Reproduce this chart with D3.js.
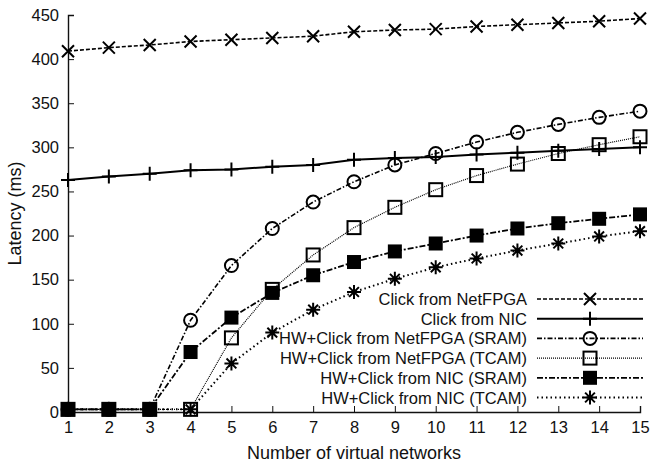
<!DOCTYPE html>
<html>
<head>
<meta charset="utf-8">
<script src="https://cdn.jsdelivr.net/npm/d3@7"></script>
<style>
  body { margin: 0; background: #fff; }
  svg text { font-family: "Liberation Sans", Arial, sans-serif; fill: #111; }
</style>
</head>
<body>
<div id="chart"></div>
<script>
const networks = [1, 2, 3, 4, 5, 6, 7, 8, 9, 10, 11, 12, 13, 14, 15];
const yTicks = [0, 50, 100, 150, 200, 250, 300, 350, 400, 450];

const clickNetFPGA = [409, 413, 416, 420, 422, 424, 426, 431, 433, 434, 437, 439, 441, 443, 446];
const clickNIC = [263, 267, 270, 274, 275, 278, 280, 286, 288, 289, 292, 294, 296, 298, 300];
const hwNetFPGASram = [3, 3, 3, 104, 166, 208, 238, 261, 280, 293, 306, 317, 326, 334, 341];
const hwNetFPGATcam = [3, 3, 3, 3, 84, 139, 178, 209, 232, 252, 268, 281, 293, 303, 312];
const hwNICSram = [3, 3, 3, 68, 107, 135, 155, 170, 182, 191, 200, 208, 214, 219, 224];
const hwNICTcam = [3, 3, 3, 3, 55, 90, 116, 136, 151, 164, 174, 183, 191, 199, 205];

const seriesNames = [
  "Click from NetFPGA",
  "Click from NIC",
  "HW+Click from NetFPGA (SRAM)",
  "HW+Click from NetFPGA (TCAM)",
  "HW+Click from NIC (SRAM)",
  "HW+Click from NIC (TCAM)"
];

// style of each series: dash pattern, stroke width, marker kind
const styles = [
  { dash: "4,2", width: 1.6, marker: "cross" },
  { dash: null, width: 2, marker: "plus" },
  { dash: "5,2,1.5,2", width: 1.6, marker: "circle" },
  { dash: "1,1", width: 1.2, marker: "square" },
  { dash: "6,2,2,2", width: 1.8, marker: "filled" },
  { dash: "1.5,3", width: 2, marker: "star" }
];

const series = [clickNetFPGA, clickNIC, hwNetFPGASram, hwNetFPGATcam, hwNICSram, hwNICTcam];

const W = 652, H = 466;
const margin = { top: 15, right: 12, bottom: 54, left: 68 };
const tickFont = "16.5px";
const legendFont = "16.5px";
const titleFont = "18px";

const svg = d3.select("#chart").append("svg")
  .attr("width", W).attr("height", H);

const x = d3.scaleLinear().domain([1, 15]).range([margin.left, W - margin.right]);
const y = d3.scaleLinear().domain([0, 450]).range([H - margin.bottom, margin.top]);

// axes (ticks point inward)
svg.append("g")
  .attr("transform", `translate(0,${y(0)})`)
  .call(d3.axisBottom(x).tickValues(networks).tickFormat(d3.format("d")).tickSize(-6).tickPadding(9))
  .call(g => {
    g.select(".domain").attr("stroke", "#111").attr("stroke-width", 1.4);
    g.selectAll(".tick line").attr("stroke", "#111");
    g.selectAll(".tick text").style("font-size", tickFont);
  });

svg.append("g")
  .attr("transform", `translate(${x(1)},0)`)
  .call(d3.axisLeft(y).tickValues(yTicks).tickSize(-6).tickPadding(9))
  .call(g => {
    g.select(".domain").attr("stroke", "#111").attr("stroke-width", 1.4);
    g.selectAll(".tick line").attr("stroke", "#111");
    g.selectAll(".tick text").style("font-size", tickFont);
  });

svg.append("text")
  .attr("x", (x(1) + x(15)) / 2)
  .attr("y", 459)
  .attr("text-anchor", "middle")
  .style("font-size", titleFont)
  .text("Number of virtual networks");

svg.append("text")
  .attr("transform", `translate(21,${(y(0) + y(450)) / 2}) rotate(-90)`)
  .attr("text-anchor", "middle")
  .style("font-size", titleFont)
  .text("Latency (ms)");

const drawMarker = (g, kind, cx, cy) => {
  const s = 6;
  if (kind === "cross") {
    g.append("path")
      .attr("d", `M${cx - s},${cy - s}L${cx + s},${cy + s}M${cx - s},${cy + s}L${cx + s},${cy - s}`)
      .attr("stroke", "#000").attr("stroke-width", 2).attr("fill", "none");
  } else if (kind === "plus") {
    g.append("path")
      .attr("d", `M${cx - 7},${cy}L${cx + 7},${cy}M${cx},${cy - 7}L${cx},${cy + 7}`)
      .attr("stroke", "#000").attr("stroke-width", 2).attr("fill", "none");
  } else if (kind === "circle") {
    g.append("circle").attr("cx", cx).attr("cy", cy).attr("r", 6.5)
      .attr("fill", "none").attr("stroke", "#000").attr("stroke-width", 2);
  } else if (kind === "square") {
    g.append("rect").attr("x", cx - 6.5).attr("y", cy - 6.5).attr("width", 13).attr("height", 13)
      .attr("fill", "none").attr("stroke", "#000").attr("stroke-width", 2);
  } else if (kind === "filled") {
    g.append("rect").attr("x", cx - 7).attr("y", cy - 7).attr("width", 14).attr("height", 14)
      .attr("fill", "#000");
  } else if (kind === "star") {
    const r = 7, d = r * 0.7;
    g.append("path")
      .attr("d", `M${cx - r},${cy}L${cx + r},${cy}M${cx},${cy - r}L${cx},${cy + r}` +
        `M${cx - d},${cy - d}L${cx + d},${cy + d}M${cx - d},${cy + d}L${cx + d},${cy - d}`)
      .attr("stroke", "#000").attr("stroke-width", 2).attr("fill", "none");
  }
};

const line = d3.line().x((d, i) => x(networks[i])).y(d => y(d));

const plot = svg.append("g");
series.forEach((vals, k) => {
  const st = styles[k];
  plot.append("path")
    .datum(vals)
    .attr("fill", "none")
    .attr("stroke", "#000")
    .attr("stroke-width", st.width)
    .attr("stroke-dasharray", st.dash)
    .attr("d", line);
  const mg = plot.append("g");
  vals.forEach((v, i) => drawMarker(mg, st.marker, x(networks[i]), y(v)));
});

// legend
const legend = svg.append("g");
seriesNames.forEach((name, k) => {
  const st = styles[k];
  const ly = 299 + k * 19.7;
  legend.append("text")
    .attr("x", 527).attr("y", ly + 6)
    .attr("text-anchor", "end")
    .style("font-size", legendFont)
    .text(name);
  legend.append("line")
    .attr("x1", 537).attr("x2", 643).attr("y1", ly).attr("y2", ly)
    .attr("stroke", "#000").attr("stroke-width", st.width)
    .attr("stroke-dasharray", st.dash);
  drawMarker(legend, st.marker, 590, ly);
});
</script>
</body>
</html>
